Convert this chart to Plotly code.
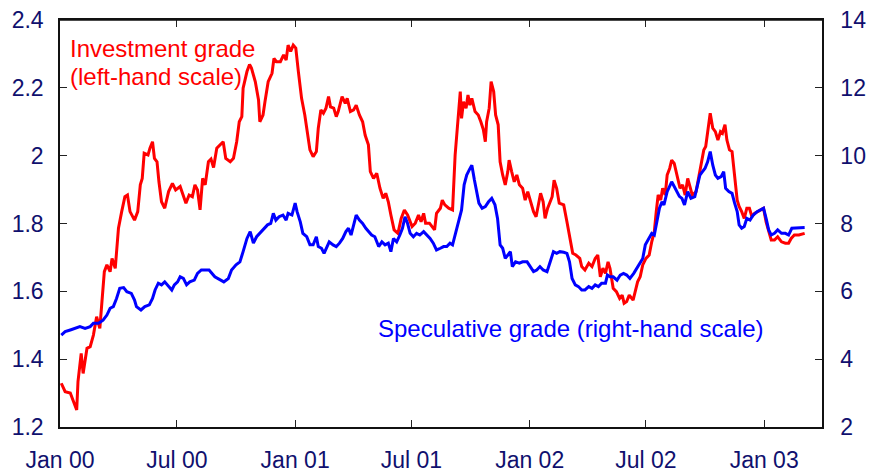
import numpy as np
import plotly.graph_objects as go

START = np.datetime64("2000-01-01")

# Investment grade spread (left-hand scale), days since 1 Jan 2000
ig_days = [2, 8, 16, 21, 26, 28, 33, 36, 42, 47, 52, 57, 62, 69, 73, 78, 81, 86, 91, 96,
           101, 105, 109, 116, 121, 125, 128, 131, 137, 140, 144, 147, 151, 154, 158, 163, 169, 175, 180, 187,
           192, 196, 201, 206, 210, 214, 218, 222, 226, 231, 235, 239, 244, 249, 254, 258, 265, 270, 275, 279,
           283, 285, 291, 295, 298, 304, 309, 311, 316, 319, 324, 330, 333, 337, 343, 348, 352, 355, 359, 363,
           367, 371, 376, 381, 385, 389, 394, 399, 402, 406, 410, 414, 418, 421, 426, 430, 433, 439, 444, 447,
           452, 457, 461, 466, 471, 475, 480, 483, 488, 493, 498, 503, 507, 511, 515, 520, 526, 531, 536, 541,
           548, 553, 558, 562, 566, 569, 575, 579, 583, 586, 592, 595, 599, 605, 611, 615, 619, 623, 625, 628,
           632, 635, 638, 641, 646, 651, 655, 659, 662, 664, 668, 671, 675, 678, 682, 685, 689, 693, 697, 699,
           703, 707, 711, 715, 720, 724, 728, 732, 737, 741, 745, 748, 752, 755, 759, 763, 766, 769, 773, 777,
           784, 789, 794, 798, 803, 809, 812, 817, 823, 828, 833, 837, 841, 845, 849, 853, 856, 861, 866, 871,
           875, 878, 882, 886, 892, 895, 899, 903, 907, 912, 917, 921, 925, 928, 931, 935, 938, 942, 945, 949,
           952, 956, 959, 963, 965, 969, 973, 977, 981, 984, 990, 994, 998, 1002, 1005, 1008, 1012, 1016, 1020, 1024,
           1028, 1031, 1035, 1038, 1042, 1046, 1050, 1054, 1057, 1061, 1065, 1069, 1073, 1077, 1081, 1086, 1091, 1095, 1099, 1103,
           1107, 1112, 1117, 1123, 1129, 1134, 1138, 1143, 1150, 1159]
ig_vals = [1.329, 1.304, 1.300, 1.275, 1.250, 1.334, 1.417, 1.358, 1.432, 1.437, 1.471, 1.525, 1.491, 1.658, 1.678, 1.658, 1.697, 1.668, 1.786, 1.835,
           1.879, 1.884, 1.835, 1.810, 1.835, 1.914, 1.933, 2.007, 2.002, 2.022, 2.041, 1.992, 1.982, 1.923, 1.864, 1.845, 1.894, 1.918, 1.899, 1.909,
           1.879, 1.860, 1.884, 1.879, 1.914, 1.899, 1.840, 1.933, 1.914, 1.982, 1.990, 1.965, 2.022, 2.032, 2.041, 1.992, 1.982, 1.992, 2.041, 2.100,
           2.115, 2.199, 2.248, 2.269, 2.258, 2.218, 2.164, 2.100, 2.120, 2.159, 2.218, 2.243, 2.287, 2.277, 2.277, 2.297, 2.282, 2.326, 2.307, 2.326,
           2.317, 2.248, 2.169, 2.120, 2.071, 2.017, 1.997, 2.012, 2.081, 2.135, 2.125, 2.140, 2.174, 2.144, 2.140, 2.115, 2.130, 2.174, 2.154, 2.169,
           2.130, 2.135, 2.149, 2.120, 2.100, 2.060, 2.032, 1.953, 1.933, 1.948, 1.904, 1.874, 1.889, 1.864, 1.825, 1.781, 1.771, 1.815, 1.840, 1.825,
           1.791, 1.801, 1.825, 1.805, 1.830, 1.801, 1.801, 1.791, 1.781, 1.830, 1.845, 1.869, 1.855, 1.845, 1.840, 2.002, 2.110, 2.189, 2.110, 2.159,
           2.140, 2.179, 2.149, 2.169, 2.130, 2.120, 2.100, 2.076, 2.041, 2.100, 2.140, 2.218, 2.189, 2.120, 2.091, 1.982, 1.943, 1.914, 1.953, 1.987,
           1.953, 1.923, 1.943, 1.914, 1.904, 1.869, 1.894, 1.864, 1.835, 1.820, 1.864, 1.889, 1.864, 1.815, 1.845, 1.864, 1.879, 1.928, 1.904, 1.860,
           1.855, 1.805, 1.746, 1.712, 1.707, 1.697, 1.673, 1.663, 1.683, 1.673, 1.697, 1.707, 1.643, 1.668, 1.653, 1.687, 1.668, 1.609, 1.599, 1.579,
           1.589, 1.565, 1.570, 1.589, 1.574, 1.599, 1.628, 1.643, 1.678, 1.697, 1.707, 1.746, 1.776, 1.835, 1.884, 1.869, 1.904, 1.884, 1.943, 1.963,
           1.987, 1.977, 1.953, 1.914, 1.904, 1.914, 1.884, 1.933, 1.909, 1.884, 1.894, 1.933, 1.973, 2.017, 2.027, 2.071, 2.125, 2.081, 2.071, 2.046,
           2.071, 2.066, 2.091, 2.046, 2.017, 2.012, 1.933, 1.869, 1.850, 1.835, 1.815, 1.845, 1.845, 1.820, 1.830, 1.835, 1.840, 1.845, 1.805, 1.776,
           1.751, 1.751, 1.761, 1.746, 1.742, 1.742, 1.756, 1.766, 1.766, 1.771]

# Speculative grade spread (right-hand scale), days since 1 Jan 2000
sg_days = [2, 8, 16, 23, 31, 39, 47, 52, 60, 67, 73, 78, 83, 88, 93, 99, 104, 111, 116, 119,
           126, 132, 139, 144, 148, 153, 158, 163, 169, 174, 178, 183, 187, 192, 197, 202, 209, 214, 220, 226,
           232, 241, 249, 255, 262, 267, 274, 280, 285, 291, 296, 301, 306, 311, 318, 323, 328, 332, 336, 341,
           347, 352, 355, 361, 366, 369, 374, 378, 384, 389, 394, 399, 402, 407, 411, 415, 419, 425, 430, 435,
           440, 445, 449, 453, 457, 461, 466, 471, 476, 482, 485, 490, 496, 501, 506, 511, 515, 519, 524, 529,
           533, 537, 541, 545, 550, 555, 560, 566, 571, 576, 581, 586, 592, 597, 602, 607, 611, 615, 620, 625,
           629, 633, 637, 641, 645, 649, 652, 657, 662, 667, 672, 677, 681, 685, 689, 693, 697, 701, 704, 709,
           715, 720, 727, 732, 737, 742, 747, 752, 758, 763, 768, 773, 778, 784, 789, 793, 797, 802, 807, 812,
           817, 823, 828, 833, 838, 843, 849, 852, 856, 861, 867, 872, 877, 882, 887, 893, 898, 903, 907, 911,
           916, 921, 925, 929, 933, 937, 940, 945, 949, 952, 956, 960, 964, 968, 972, 977, 982, 988, 993, 996,
           1000, 1004, 1008, 1012, 1016, 1020, 1024, 1029, 1033, 1036, 1041, 1046, 1050, 1054, 1057, 1061, 1065, 1069, 1074, 1079,
           1085, 1090, 1095, 1099, 1103, 1107, 1112, 1117, 1123, 1129, 1134, 1139, 1144, 1152, 1159]
sg_vals = [4.71, 4.81, 4.86, 4.91, 4.96, 4.91, 4.96, 5.06, 5.06, 5.15, 5.30, 5.50, 5.55, 5.79, 6.09, 6.11, 5.99, 5.94, 5.74, 5.55,
           5.45, 5.55, 5.60, 5.79, 6.04, 6.24, 6.19, 6.28, 6.14, 6.04, 6.19, 6.28, 6.43, 6.38, 6.19, 6.28, 6.33, 6.53, 6.63, 6.63,
           6.63, 6.43, 6.33, 6.28, 6.38, 6.63, 6.78, 6.87, 7.17, 7.56, 7.76, 7.42, 7.61, 7.71, 7.86, 7.96, 8.00, 8.30, 8.10, 8.20,
           8.25, 8.10, 8.30, 8.25, 8.60, 8.35, 8.05, 7.71, 7.61, 7.37, 7.37, 7.61, 7.32, 7.27, 7.12, 7.27, 7.46, 7.37, 7.32, 7.42,
           7.56, 7.76, 7.86, 7.66, 8.00, 8.25, 8.10, 8.00, 7.86, 7.71, 7.66, 7.61, 7.32, 7.46, 7.37, 7.42, 7.17, 7.56, 7.46, 7.66,
           7.86, 8.20, 8.00, 7.71, 7.61, 7.71, 7.66, 7.76, 7.66, 7.56, 7.42, 7.22, 7.27, 7.32, 7.32, 7.42, 7.37, 7.66, 7.96, 8.40,
           9.14, 9.43, 9.58, 9.72, 9.28, 8.94, 8.60, 8.45, 8.50, 8.64, 8.74, 8.55, 8.15, 7.37, 7.27, 6.97, 7.07, 7.17, 6.73, 6.87,
           6.83, 6.87, 6.87, 6.73, 6.58, 6.63, 6.73, 6.63, 6.58, 6.87, 7.17, 7.12, 7.17, 7.15, 7.12, 6.87, 6.38, 6.19, 6.14, 6.04,
           6.04, 6.14, 6.09, 6.19, 6.14, 6.24, 6.24, 6.48, 6.43, 6.43, 6.33, 6.48, 6.53, 6.48, 6.38, 6.53, 6.68, 6.83, 6.97, 7.37,
           7.56, 7.71, 7.66, 8.05, 8.45, 8.64, 8.55, 8.94, 9.09, 9.23, 9.09, 8.95, 8.80, 8.74, 8.55, 8.94, 8.74, 8.79, 9.14, 9.43,
           9.53, 9.63, 9.82, 10.12, 9.72, 9.43, 9.33, 9.38, 9.53, 9.04, 8.94, 8.89, 8.60, 8.35, 7.96, 7.86, 7.91, 8.15, 8.10, 8.25,
           8.35, 8.40, 8.45, 8.15, 7.81, 7.66, 7.71, 7.81, 7.71, 7.71, 7.66, 7.86, 7.86, 7.86, 7.88]

x_tickvals = ["2000-01-01", "2000-07-01", "2001-01-01", "2001-07-01", "2002-01-01", "2002-07-01", "2003-01-01"]
x_ticktext = ["Jan 00", "Jul 00", "Jan 01", "Jul 01", "Jan 02", "Jul 02", "Jan 03"]
left_tickvals = [1.2, 1.4, 1.6, 1.8, 2.0, 2.2, 2.4]
left_ticktext = ["1.2", "1.4", "1.6", "1.8", "2", "2.2", "2.4"]
right_tickvals = [2, 4, 6, 8, 10, 12, 14]
right_ticktext = ["2", "4", "6", "8", "10", "12", "14"]

ig_dates = START + np.array(ig_days).astype("timedelta64[D]")
sg_dates = START + np.array(sg_days).astype("timedelta64[D]")

TICK_COLOR = "#10106e"
FONT = "Liberation Sans, Arial, sans-serif"

fig = go.Figure()
fig.add_trace(go.Scatter(x=sg_dates, y=sg_vals, mode="lines", yaxis="y2",
                         line=dict(color="#0000ff", width=3), showlegend=False, hoverinfo="skip"))
fig.add_trace(go.Scatter(x=ig_dates, y=ig_vals, mode="lines", yaxis="y",
                         line=dict(color="#ff0000", width=3), showlegend=False, hoverinfo="skip"))

common_axis = dict(showgrid=False, zeroline=False, showline=True, linecolor="#111", linewidth=1.5,
                   ticks="inside", ticklen=7, tickcolor="#222", tickwidth=1,
                   tickfont=dict(family=FONT, size=23, color=TICK_COLOR),
                   automargin=False, ticklabeloverflow="allow")

fig.update_layout(
    width=869, height=473,
    margin=dict(l=60, r=47, t=20, b=46),
    paper_bgcolor="white", plot_bgcolor="white",
    font=dict(family=FONT, size=23, color=TICK_COLOR),
    xaxis=dict(range=["2000-01-01", "2003-04-01"], tickvals=x_tickvals, ticktext=x_ticktext,
               mirror="all", ticklabelstandoff=12, **common_axis),
    yaxis=dict(range=[1.2, 2.4], tickvals=left_tickvals, ticktext=left_ticktext,
               ticklabelstandoff=10, **common_axis),
    yaxis2=dict(range=[2, 14], tickvals=right_tickvals, ticktext=right_ticktext,
                overlaying="y", side="right", ticklabelstandoff=12, **common_axis),
    shapes=[dict(type="line", xref="paper", yref="paper", x0=0, x1=1, y0=1, y1=1,
                 line=dict(color="#111", width=1.5), layer="above")],
    annotations=[
        dict(text="Investment grade", xref="paper", yref="paper", x=0.0105, y=0.93,
             xanchor="left", yanchor="middle", showarrow=False,
             font=dict(family=FONT, size=24, color="#ff0000")),
        dict(text="(left-hand scale)", xref="paper", yref="paper", x=0.0105, y=0.862,
             xanchor="left", yanchor="middle", showarrow=False,
             font=dict(family=FONT, size=24, color="#ff0000")),
        dict(text="Speculative grade (right-hand scale)", xref="paper", yref="paper", x=0.4145, y=0.243,
             xanchor="left", yanchor="middle", showarrow=False,
             font=dict(family=FONT, size=24, color="#0000ff")),
    ],
)

# remove the browser's default 8px page margin so the figure fills the window exactly
fig.write_html("out.html", config={"displayModeBar": False},
               post_script="document.body.style.margin='0';document.body.style.overflow='hidden';")
